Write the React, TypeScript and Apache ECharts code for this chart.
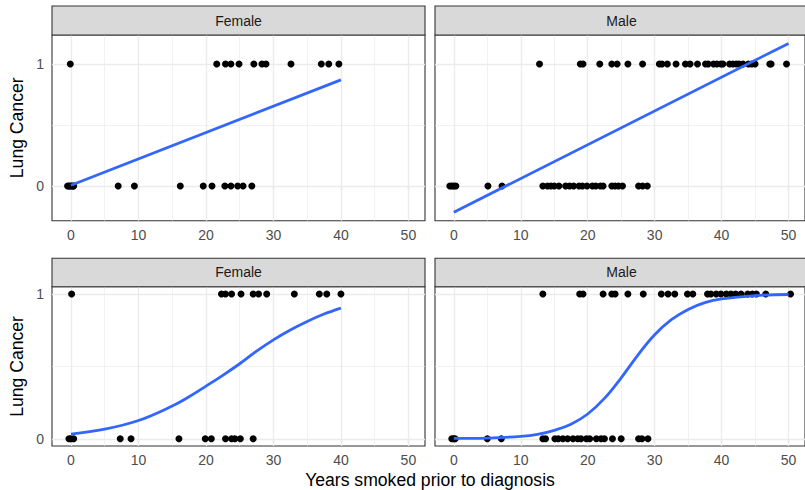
import React, { useEffect, useRef } from "react";
import * as echarts from "echarts";

const facetNames = ["Female", "Male"];
const yTitle = "Lung Cancer";
const xTitle = "Years smoked prior to diagnosis";
const xTicks = [0, 10, 20, 30, 40, 50];
const xMinorTicks = [5, 15, 25, 35, 45];
const yTicks = [0, 1];
const yMinorTicks = [0.5];

// Top row (linear fit) – jittered years, lung cancer = 1 / 0
const topFemaleYes = [-0.1, 21.6, 22.9, 23.7, 24.9, 27.1, 28.3, 28.9, 32.6, 37.1, 38.2, 39.7];
const topFemaleNo = [-0.5, -0.3, -0.1, 0.1, 0.3, 0.4, 7.0, 9.4, 16.2, 19.6, 20.9, 22.8, 23.7, 24.7, 25.5, 26.8];
const topMaleYes = [12.8, 18.9, 19.3, 21.8, 23.6, 24.4, 26.0, 28.2, 30.7, 31.1, 31.9, 33.2, 34.6, 35.3, 36.4, 37.6, 38.0, 38.8, 39.3, 39.9, 40.2, 41.2, 41.7, 42.2, 42.6, 43.2, 44.0, 44.5, 45.0, 47.2, 47.4, 49.7];
const topMaleNo = [-0.6, -0.3, 0.0, 0.3, 5.1, 7.2, 13.3, 14.0, 14.5, 15.0, 15.7, 16.7, 17.3, 17.9, 18.7, 19.2, 19.9, 20.7, 21.2, 21.9, 22.3, 23.6, 24.1, 24.6, 25.2, 27.6, 28.2, 28.9];

// Bottom row (logistic fit)
const botFemaleYes = [0.1, 22.3, 22.9, 23.8, 25.2, 27.0, 27.8, 29.0, 33.1, 36.8, 37.9, 40.0];
const botFemaleNo = [-0.3, 0.0, 0.4, 7.3, 8.9, 16.0, 19.9, 20.8, 22.9, 23.8, 24.3, 25.1, 27.0];
const botMaleYes = [13.3, 18.8, 19.3, 22.3, 23.6, 24.1, 26.0, 28.3, 31.0, 32.0, 33.0, 34.9, 35.7, 37.9, 38.4, 39.2, 39.9, 40.7, 41.4, 42.1, 42.9, 43.9, 44.6, 45.2, 46.6, 50.3];
const botMaleNo = [-0.3, 0.0, 0.2, 5.0, 7.1, 13.3, 13.7, 15.1, 15.6, 16.3, 17.0, 17.8, 18.5, 19.0, 19.8, 20.3, 21.3, 22.0, 22.5, 23.7, 25.0, 27.6, 28.1, 29.0];

// Fitted lines
const linFemaleX = [0, 40];
const linFemaleY = [0.005, 0.869];
const linMaleX = [0, 50];
const linMaleY = [-0.216, 1.168];
const logFemaleX = [0, 5, 10, 15, 17.5, 20, 22.5, 25, 27.5, 30, 32.5, 35, 37.5, 40];
const logFemaleY = [0.032, 0.066, 0.126, 0.226, 0.29, 0.363, 0.438, 0.518, 0.605, 0.683, 0.751, 0.81, 0.861, 0.902];
const logMaleX = [0, 5, 10, 12.5, 15, 17.5, 20, 22.5, 25, 27.5, 30, 32.5, 35, 37.5, 40, 45, 50];
const logMaleY = [0.002, 0.005, 0.016, 0.03, 0.058, 0.1, 0.171, 0.279, 0.421, 0.578, 0.718, 0.822, 0.893, 0.94, 0.966, 0.989, 0.996];

const FONT = "'Liberation Sans', Arial, Helvetica, sans-serif";

const toPts = (yes: number[], no: number[]) =>
  yes.map((x) => [x, 1]).concat(no.map((x) => [x, 0]));
const zip = (xs: number[], ys: number[]) => xs.map((x, i) => [x, ys[i]]);

export default function App() {
  const ref = useRef<HTMLDivElement>(null);
  useEffect(() => {
    document.body.style.margin = "0";
    const chart = echarts.init(ref.current!, null, { renderer: "svg" });

    const L = [52, 435];
    const W = 373;
    const rows = [
      { top: 35, height: 185.7, stripTop: 6, stripH: 29, yMin: -0.285, yMax: 1.237, titleY: 127.8, stripTextY: 21.3 },
      { top: 286.7, height: 159.3, stripTop: 258.3, stripH: 28.4, yMin: -0.05, yMax: 1.05, titleY: 366.4, stripTextY: 272 },
    ];
    const panelPts = [
      [toPts(topFemaleYes, topFemaleNo), toPts(topMaleYes, topMaleNo)],
      [toPts(botFemaleYes, botFemaleNo), toPts(botMaleYes, botMaleNo)],
    ];
    const panelFit = [
      [zip(linFemaleX, linFemaleY), zip(linMaleX, linMaleY)],
      [zip(logFemaleX, logFemaleY), zip(logMaleX, logMaleY)],
    ];

    const grids: any[] = [];
    const xAxes: any[] = [];
    const yAxes: any[] = [];
    const series: any[] = [];
    const graphics: any[] = [];

    const gridLineData = [
      ...xTicks.map((v) => ({ xAxis: v, lineStyle: { width: 1.3 } })),
      ...xMinorTicks.map((v) => ({ xAxis: v, lineStyle: { width: 0.65 } })),
      ...yTicks.map((v) => ({ yAxis: v, lineStyle: { width: 1.3 } })),
      ...yMinorTicks.map((v) => ({ yAxis: v, lineStyle: { width: 0.65 } })),
    ];

    rows.forEach((r, ri) => {
      [0, 1].forEach((ci) => {
        const idx = ri * 2 + ci;
        grids.push({
          left: L[ci],
          top: r.top,
          width: W,
          height: r.height,
          show: true,
          backgroundColor: "#ffffff",
          borderColor: "#333333",
          borderWidth: 1.1,
          containLabel: false,
        });
        xAxes.push({
          type: "value",
          gridIndex: idx,
          min: -2.81,
          max: 52.46,
          axisLine: { show: false },
          splitLine: { show: false },
          axisTick: { show: true, customValues: xTicks, length: 4, lineStyle: { color: "#333333", width: 1.1 } },
          axisLabel: { customValues: xTicks, color: "#4D4D4D", fontSize: 14, fontFamily: FONT, margin: 7 },
        });
        yAxes.push({
          type: "value",
          gridIndex: idx,
          min: r.yMin,
          max: r.yMax,
          axisLine: { show: false },
          splitLine: { show: false },
          axisTick: { show: ci === 0, customValues: yTicks, length: 4, lineStyle: { color: "#333333", width: 1.1 } },
          axisLabel: { show: ci === 0, customValues: yTicks, color: "#4D4D4D", fontSize: 14, fontFamily: FONT, margin: 8 },
        });
        series.push({
          type: "scatter",
          xAxisIndex: idx,
          yAxisIndex: idx,
          data: panelPts[ri][ci],
          symbolSize: 7,
          itemStyle: { color: "#000000", opacity: 1 },
          z: 3,
          silent: true,
          markLine: {
            silent: true,
            z: 1,
            symbol: ["none", "none"],
            label: { show: false },
            lineStyle: { color: "#EBEBEB", type: "solid" },
            data: gridLineData,
            animation: false,
          },
        });
        series.push({
          type: "line",
          xAxisIndex: idx,
          yAxisIndex: idx,
          data: panelFit[ri][ci],
          showSymbol: false,
          smooth: ri === 1 ? 0.4 : false,
          lineStyle: { color: "#3366FF", width: 2.8 },
          z: 4,
          silent: true,
        });
        graphics.push({
          type: "rect",
          shape: { x: L[ci], y: r.stripTop, width: W, height: r.stripH },
          style: { fill: "#D9D9D9", stroke: "#333333", lineWidth: 1.1 },
          z: 10,
        });
        graphics.push({
          type: "text",
          x: L[ci] + W / 2,
          y: r.stripTextY,
          style: { text: facetNames[ci], fill: "#1A1A1A", fontSize: 14, fontFamily: FONT, align: "center", verticalAlign: "middle" },
          z: 11,
        });
      });
      graphics.push({
        type: "text",
        x: 17,
        y: r.titleY,
        rotation: Math.PI / 2,
        style: { text: yTitle, fill: "#000000", fontSize: 17.6, fontFamily: FONT, align: "center", verticalAlign: "middle" },
      });
    });
    graphics.push({
      type: "text",
      x: 430,
      y: 480,
      style: { text: xTitle, fill: "#000000", fontSize: 17.6, fontFamily: FONT, align: "center", verticalAlign: "middle" },
    });

    chart.setOption({
      animation: false,
      backgroundColor: "#ffffff",
      grid: grids,
      xAxis: xAxes,
      yAxis: yAxes,
      series,
      graphic: graphics,
    });
    return () => chart.dispose();
  }, []);
  return <div ref={ref} style={{ width: 805, height: 490, overflow: "hidden" }} />;
}
